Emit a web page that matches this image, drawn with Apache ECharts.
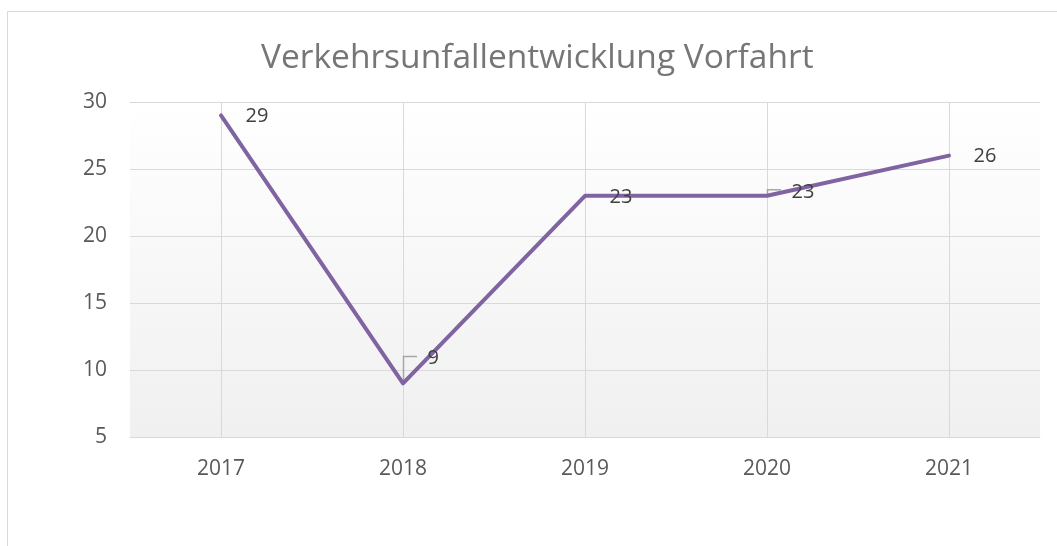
<!DOCTYPE html>
<html>
<head>
<meta charset="utf-8">
<script src="https://cdn.jsdelivr.net/npm/echarts@6/dist/echarts.min.js"></script>
<style>
  html, body { margin: 0; padding: 0; background: #fff; }
  #chart { width: 1057px; height: 546px; }
</style>
</head>
<body>
<div id="chart"></div>
<script>
const years = ["2017", "2018", "2019", "2020", "2021"];
const accidents = [29, 9, 23, 23, 26];
const yTicks = { min: 5, max: 30, step: 5 };
// nudges for the labels that Excel moved off their default spot
const labelShifts = [[0, 1], [0, -25], [0, 1], [0, -4], [0, 1]];
const leaderLines = [false, true, false, true, false];

const font = '"Open Sans", "Noto Sans", sans-serif';
const lineColor = "#8064a2";
const gridColor = "#d9d9d9";

const chart = echarts.init(document.getElementById("chart"));

// Excel-style elbow leader: up from the point, then across towards the moved label
function renderLeader(params, api) {
  const i = params.dataIndex;
  if (!leaderLines[i]) {
    return null;
  }
  const [x, y] = api.coord([api.value(0), api.value(1)]);
  const ly = y + labelShifts[i][1] - 2;
  return {
    type: "polyline",
    shape: { points: [[x + 0.5, y], [x + 0.5, ly], [x + 14, ly]] },
    style: { stroke: "#a6a6a6", lineWidth: 1.5, fill: null },
  };
}

chart.setOption({
  backgroundColor: "#fff",
  animation: false,
  title: {
    text: "Verkehrsunfallentwicklung Vorfahrt",
    left: 256,
    top: 36,
    textStyle: { color: "#767676", fontFamily: font, fontSize: 33.5, fontWeight: "normal" },
  },
  graphic: [
    {
      type: "rect",
      shape: { x: 7.5, y: 11.5, width: 1100, height: 600 },
      style: { fill: null, stroke: gridColor, lineWidth: 1 },
      silent: true,
    },
  ],
  grid: {
    left: 130,
    right: 17,
    top: 102,
    bottom: 109,
    show: true,
    borderWidth: 0,
    backgroundColor: new echarts.graphic.LinearGradient(0, 0, 0, 1, [
      { offset: 0, color: "#ffffff" },
      { offset: 1, color: "#f0f0f0" },
    ]),
  },
  xAxis: {
    type: "category",
    data: years,
    boundaryGap: true,
    axisLine: { lineStyle: { color: gridColor, width: 1 } },
    axisTick: {
      show: true,
      inside: true,
      alignWithLabel: true,
      length: 335,
      lineStyle: { color: gridColor, width: 1 },
    },
    splitLine: { show: false },
    axisLabel: { color: "#595959", fontFamily: font, fontSize: 21, margin: 22 },
  },
  yAxis: {
    type: "value",
    min: yTicks.min,
    max: yTicks.max,
    interval: yTicks.step,
    axisLine: { show: false },
    axisTick: { show: false },
    splitLine: { lineStyle: { color: gridColor, width: 1 } },
    axisLabel: { color: "#595959", fontFamily: font, fontSize: 21, margin: 23 },
  },
  series: [
    {
      type: "line",
      data: accidents.map((v, i) => ({
        value: v,
        label: { offset: labelShifts[i] },
      })),
      symbol: "circle",
      symbolSize: 1,
      showSymbol: true,
      lineStyle: { color: lineColor, width: 4, cap: "round", join: "round" },
      itemStyle: { color: lineColor },
      label: {
        show: true,
        position: "right",
        distance: 24,
        color: "#404040",
        fontFamily: font,
        fontSize: 20,
      },
    },
    {
      type: "custom",
      data: accidents.map((v, i) => [i, v]),
      renderItem: renderLeader,
      silent: true,
      z: 3,
    },
  ],
});
</script>
</body>
</html>
